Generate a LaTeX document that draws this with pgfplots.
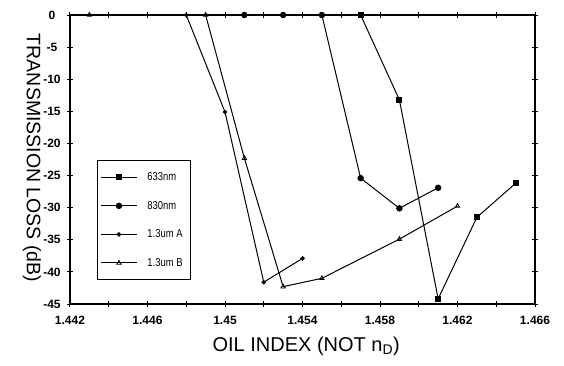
\documentclass[border=0pt]{standalone}
\usepackage{fontspec}
\setmainfont{Liberation Sans}
\newfontfamily\narrow[FakeStretch=0.82]{Liberation Sans}
\usepackage{pgfplots}
\pgfplotsset{compat=1.18}
\begin{document}
\begin{tikzpicture}
\begin{axis}[
  at={(0pt,0pt)}, anchor=south west,
  scale only axis, width=465pt, height=289pt,
  xmin=1.442, xmax=1.466, ymin=-45, ymax=0,
  xtick={1.442,1.446,1.450,1.454,1.458,1.462,1.466},
  xticklabels={1.442,1.446,1.45,1.454,1.458,1.462,1.466},
  minor xtick={1.444,1.448,1.452,1.456,1.460,1.464},
  ytick={-45,-40,-35,-30,-25,-20,-15,-10,-5,0},
  yticklabels={-45,-40,-35,-30,-25,-20,-15,-10,-5,0},
  tick align=center, major tick length=6pt, minor tick length=6pt,
  axis line style={line width=1.2pt},
  every tick/.style={black, line width=1pt},
  xticklabel style={font=\bfseries\fontsize{12}{14}\selectfont, yshift=-6pt},
  yticklabel style={font=\bfseries\fontsize{12}{14}\selectfont, anchor=center, xshift=-15pt},
  xlabel={OIL INDEX (NOT n\textsubscript{D})},
  ylabel={TRANSMISSION LOSS (dB)},
  xlabel style={font=\fontsize{20}{24}\selectfont, at={(axis description cs:0.508,-0.145)}, anchor=center},
  ylabel style={font=\fontsize{19.5}{23}\selectfont, at={(axis description cs:-0.082,0.505)}, anchor=center, rotate=180},
  legend style={at={(rel axis cs:0.058,0.498)}, anchor=north west, draw=black, line width=1pt,
    fill=white, font=\narrow\fontsize{11.5}{13}\selectfont,
    inner xsep=3pt, inner ysep=10pt, row sep=15pt, column sep=5pt,
    nodes={inner ysep=2pt, inner xsep=5pt}},
  legend cell align=left,
  legend image code/.code={\draw[mark repeat=2, mark phase=2, #1] plot coordinates {(0pt,0pt) (18pt,0pt) (36pt,0pt)};},
  every axis plot/.append style={black, line width=1pt},
]
\addplot[mark=square*, mark size=2.6pt] coordinates {
  (1.457,0) (1.459,-13.2) (1.461,-44.2) (1.463,-31.5) (1.465,-26.2)};
\addlegendentry{633nm}
\addplot[mark=*, mark size=2.7pt] coordinates {
  (1.451,0) (1.453,0) (1.455,0) (1.457,-25.4) (1.459,-30.1) (1.461,-26.9)};
\addlegendentry{830nm}
\addplot[mark=*, mark size=1.7pt] coordinates {
  (1.448,0) (1.450,-15.1) (1.452,-41.6) (1.454,-37.9)};
\addlegendentry{1.3um A}
\addplot[mark=triangle, mark size=2.5pt, mark options={fill=white, line width=0.8pt}] coordinates {
  (1.443,0) (1.449,0) (1.451,-22.3) (1.453,-42.3) (1.455,-41) (1.459,-34.9) (1.462,-29.75)};
\addlegendentry{1.3um B}
\end{axis}
\pgfresetboundingbox
\path[use as bounding box] (-70pt,-61pt) rectangle (494pt,304pt);
\end{tikzpicture}
\end{document}
